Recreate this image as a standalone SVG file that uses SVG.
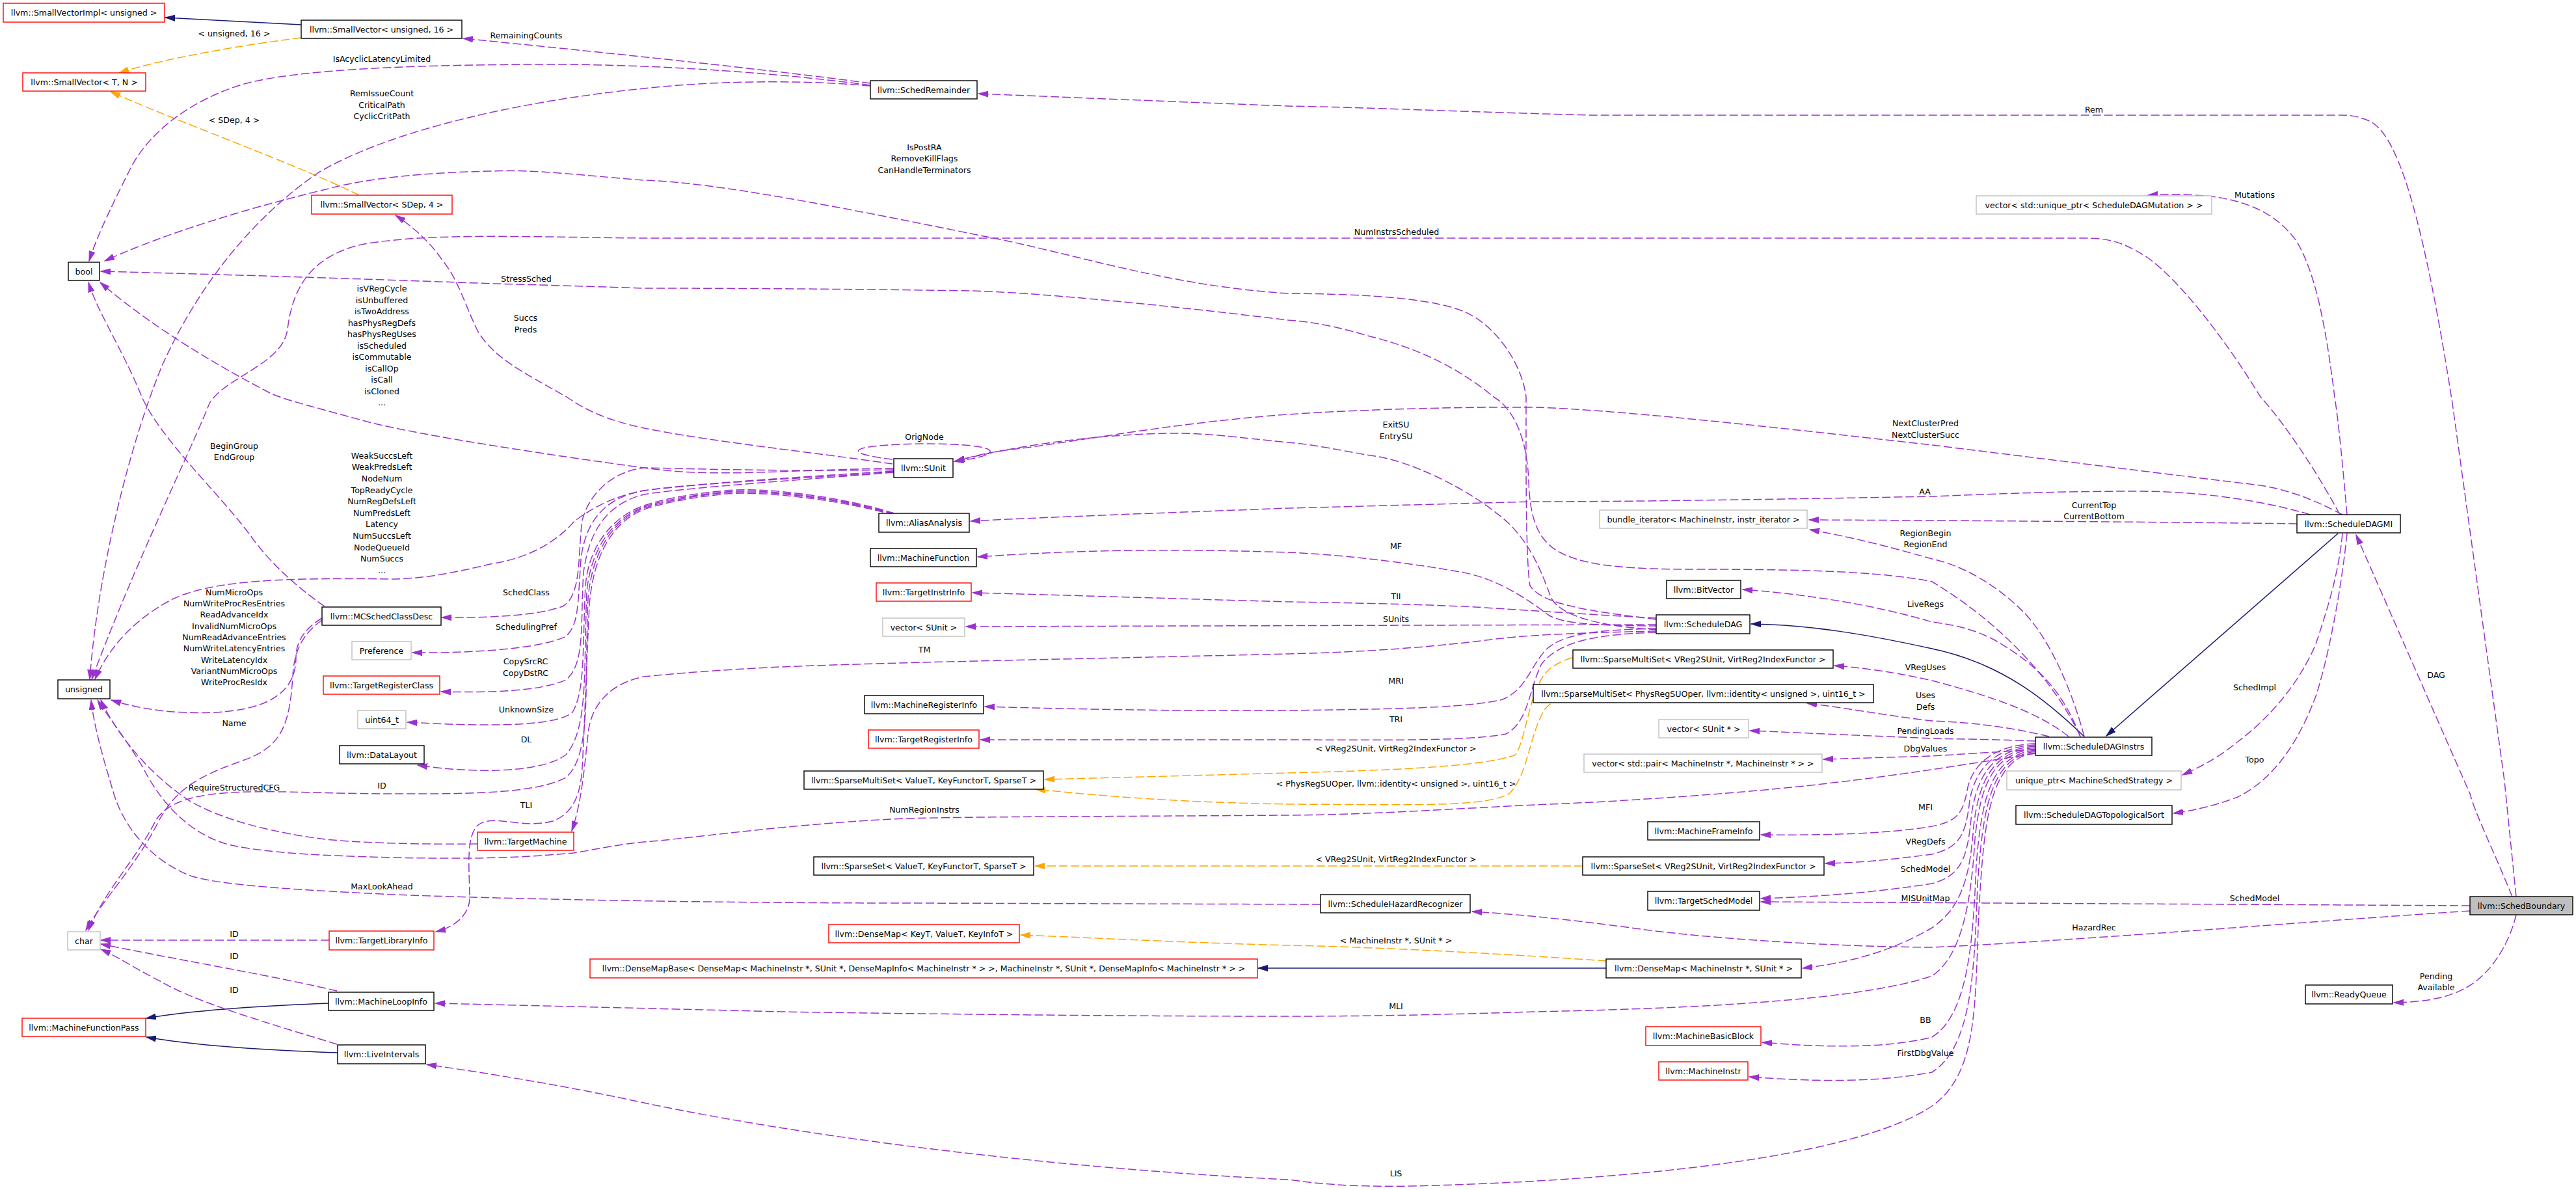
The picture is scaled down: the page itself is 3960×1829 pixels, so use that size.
<svg xmlns="http://www.w3.org/2000/svg" width="3960" height="1829" viewBox="0 0 3960 1829">
<style>
text{font-family:"DejaVu Sans","Liberation Sans",sans-serif;font-size:12.6px;fill:#000}
.nt{text-anchor:middle}
.lb{text-anchor:middle}
.b rect{fill:#fff;stroke:#000;stroke-width:1.4}
.r rect{fill:#fff;stroke:#ff0000;stroke-width:1.4}
.g rect{fill:#fff;stroke:#bfbfbf;stroke-width:1.4}
.u{fill:none;stroke:#9a32cd;stroke-width:1.5;stroke-dasharray:13,5;marker-end:url(#ap)}
.o{fill:none;stroke:#ffa500;stroke-width:1.5;stroke-dasharray:13,5;marker-end:url(#ao)}
.i{fill:none;stroke:#191970;stroke-width:1.5;marker-end:url(#ab)}
</style>
<defs>
<marker id="ap" markerUnits="userSpaceOnUse" markerWidth="16" markerHeight="10" refX="15" refY="5" orient="auto"><path d="M0,0.5 L15,5 L0,9.5 z" fill="#9a32cd" stroke="#9a32cd"/></marker>
<marker id="ao" markerUnits="userSpaceOnUse" markerWidth="16" markerHeight="10" refX="15" refY="5" orient="auto"><path d="M0,0.5 L15,5 L0,9.5 z" fill="#ffa500" stroke="#ffa500"/></marker>
<marker id="ab" markerUnits="userSpaceOnUse" markerWidth="16" markerHeight="10" refX="15" refY="5" orient="auto"><path d="M0,0.5 L15,5 L0,9.5 z" fill="#191970" stroke="#191970"/></marker>
</defs>
<rect width="3960" height="1829" fill="#fff"/>
<g id="edges">
<path class="i" d="M463,38 L254,27"/>
<path class="o" d="M463,58 C380,68 250,90 183,112"/>
<path class="o" d="M552,300 C450,250 280,190 170,141"/>
<path class="u" d="M1338,128 C1150,103 900,78 712,59"/>
<path class="u" d="M1338,131 C1150,106 950,98 821,99 C650,100 470,105 379,128 C300,150 230,200 200,260 C175,310 150,360 137,401"/>
<path class="u" d="M1338,132 C1250,124 1120,122 990,136 C800,155 600,200 490,265 C380,340 300,450 250,560 C200,680 150,880 138,1044"/>
<path class="u" d="M3597,791 C3570,740 3520,660 3475,610 C3420,520 3350,430 3300,395 C3260,370 3240,366 3200,366 L990,366 C800,364 660,358 560,375 C480,392 450,440 442,506 C435,560 345,580 322,620 C290,700 210,860 141,1044"/>
<path class="u" d="M1372,713 C1250,695 1100,680 990,658 C930,645 900,630 871,610 C800,570 760,550 735,510 C715,470 705,430 680,400 C660,370 630,345 608,331"/>
<path class="u" d="M1374,720 C1200,722 1100,735 990,719 C850,700 650,670 568,649 C480,625 440,615 417,605 C330,560 230,500 154,434"/>
<path class="u" d="M1374,725 C1250,735 1100,740 990,754 C930,765 900,790 884,800 C850,840 800,860 758,866 C700,880 650,890 600,890 C450,888 330,890 265,921 C210,950 170,990 146,1044"/>
<path class="u" d="M1374,722 C1200,725 1050,720 990,719 C940,725 905,760 895,800 C888,850 895,915 865,932 C830,945 760,950 679,949"/>
<path class="u" d="M1374,724 C1200,735 1050,745 990,754 C930,765 900,800 893,860 C888,930 890,960 870,978 C830,998 720,1004 634,1003"/>
<path class="u" d="M1374,726 C1200,740 1050,750 990,760 C930,775 905,820 897,880 C892,960 900,1020 870,1045 C830,1063 750,1065 678,1063"/>
<path class="u" d="M1375,789 C1300,765 1180,748 1116,754 C1050,760 1010,770 990,777 C940,795 905,840 900,900 C895,1000 900,1060 880,1095 C850,1120 720,1115 626,1110"/>
<path class="u" d="M1375,790 C1300,767 1180,750 1116,756 C1050,762 1010,772 990,779 C940,798 908,845 902,910 C897,1030 905,1120 870,1160 C830,1190 720,1188 642,1176"/>
<path class="u" d="M1375,791 C1300,768 1180,752 1116,757 C1050,764 1010,774 990,781 C940,800 910,850 904,920 C898,1060 910,1160 870,1195 C820,1222 700,1220 600,1220 C420,1220 280,1200 240,1260 C210,1320 160,1370 136,1430"/>
<path class="u" d="M1375,792 C1300,770 1180,754 1116,759 C1050,766 1010,776 990,783 C940,803 912,855 906,930 C900,1060 898,1130 895,1180 C892,1225 880,1250 850,1262 C800,1275 760,1250 735,1268 C715,1285 722,1340 722,1380 C722,1405 700,1425 670,1432"/>
<path class="u" d="M1372,706 C1300,698 1290,684 1419,682 C1550,682 1545,700 1467,709"/>
<path class="u" d="M499,932 C460,905 420,870 390,830 C340,760 250,680 218,610 C190,540 150,480 136,434"/>
<path class="u" d="M495,950 C470,965 455,985 455,1010 C455,1060 420,1090 330,1095 C260,1098 210,1088 171,1076"/>
<path class="u" d="M495,953 C465,975 452,1000 450,1040 C445,1120 430,1150 370,1170 C300,1195 270,1215 245,1260 C210,1330 160,1380 132,1430"/>
<path class="u" d="M734,1297 C650,1298 560,1296 500,1290 C420,1280 340,1260 290,1230 C230,1190 180,1130 155,1076"/>
<path class="u" d="M2030,1390 L1400,1388 C1100,1388 800,1382 631,1376 C450,1368 330,1360 290,1345 C230,1320 190,1270 175,1220 C160,1170 145,1120 140,1076"/>
<path class="u" d="M3129,1158 C3050,1170 2950,1188 2801,1205 C2700,1217 2500,1232 2359,1237 C2200,1245 2100,1252 1980,1253 C1700,1255 1450,1255 1369,1259 C1200,1268 1050,1290 990,1294 C930,1300 900,1310 870,1312 C780,1320 700,1320 600,1318 C500,1315 420,1312 360,1300 C300,1288 250,1240 220,1180 C190,1130 165,1100 150,1076"/>
<path class="u" d="M2546,970 C2450,972 2360,975 2300,982 C2200,995 2100,1002 1980,1005 C1700,1012 1400,1017 1200,1025 C1100,1030 1040,1035 990,1040 C940,1050 912,1080 905,1120 C898,1180 895,1230 879,1277"/>
<path class="u" d="M2546,952 C2450,940 2370,930 2352,900 C2345,860 2346,700 2346,610 C2340,560 2300,500 2251,479 C2200,458 2100,452 1980,451 C1800,440 1650,390 1527,366 C1300,320 1100,280 990,277 C900,270 820,260 758,263 C650,265 560,275 505,290 C380,320 250,360 161,401"/>
<path class="u" d="M3198,1132 C3160,1050 3080,960 2970,894 C2900,880 2800,875 2611,875 C2500,875 2440,870 2400,850 C2360,830 2352,790 2350,740 C2348,680 2330,630 2296,610 C2260,580 2200,540 2106,517 C2050,500 2010,494 1980,492 C1800,470 1600,450 1495,447 C1300,444 1100,443 990,443 C900,440 800,437 758,436 C600,430 350,422 155,417"/>
<path class="u" d="M2548,968 C2450,962 2400,945 2385,920 C2370,880 2355,840 2320,805 C2260,750 2160,705 2106,700 C2050,690 2010,682 1980,680 C1900,672 1850,665 1800,666 C1680,668 1560,685 1468,709"/>
<path class="u" d="M2548,962 C2450,962 2400,958 2380,945 C2340,915 2300,890 2250,880 C2150,862 2050,852 1980,849 C1850,845 1700,842 1503,856"/>
<path class="u" d="M2546,950 C2450,945 2350,938 2250,932 C2150,928 2050,926 1980,925 C1800,920 1650,915 1495,911"/>
<path class="u" d="M2546,960 L1485,963"/>
<path class="u" d="M2546,966 C2450,968 2400,975 2375,1000 C2350,1030 2345,1060 2310,1075 C2250,1090 2100,1090 1980,1092 C1800,1093 1650,1090 1514,1086"/>
<path class="u" d="M2546,972 C2440,975 2395,990 2370,1020 C2350,1060 2350,1110 2315,1128 C2260,1140 2100,1137 1980,1137 L1507,1137"/>
<path class="i" d="M3204,1132 C3150,1080 3080,1020 2970,997 C2870,975 2780,960 2692,959"/>
<path class="u" d="M3204,1132 C3185,1060 3150,980 3110,940 C3070,900 3020,870 2970,859 C2920,845 2860,828 2782,814"/>
<path class="u" d="M3198,1132 C3170,1060 3130,1020 3065,983 C3030,965 3000,960 2970,956 C2900,935 2800,915 2679,906"/>
<path class="u" d="M3180,1132 C3140,1100 3080,1075 2970,1046 C2920,1035 2880,1028 2820,1023"/>
<path class="u" d="M3150,1132 C3080,1115 3020,1110 2970,1108 C2900,1100 2840,1088 2778,1081"/>
<path class="u" d="M3129,1139 C3060,1136 3000,1136 2970,1135 L2690,1123"/>
<path class="u" d="M3129,1152 C3050,1157 3000,1160 2970,1162 L2803,1167"/>
<path class="u" d="M3129,1143 C3070,1145 3035,1170 3025,1210 C3018,1250 3010,1262 2970,1270 C2900,1282 2800,1284 2707,1283"/>
<path class="u" d="M3129,1145 C3068,1148 3037,1180 3028,1230 C3022,1280 3015,1302 2970,1313 C2900,1322 2860,1326 2806,1327"/>
<path class="u" d="M3129,1147 C3066,1151 3040,1190 3031,1250 C3025,1310 3020,1345 2970,1358 C2880,1372 2800,1378 2707,1381"/>
<path class="u" d="M3129,1149 C3064,1154 3042,1200 3034,1270 C3028,1350 3015,1395 2970,1426 C2920,1455 2860,1478 2771,1488"/>
<path class="u" d="M3129,1151 C3062,1157 3044,1210 3036,1290 C3030,1390 3015,1470 2970,1500 C2880,1530 2700,1548 2359,1555 C2200,1560 2100,1562 1980,1562 C1700,1562 1400,1558 1200,1555 C1000,1550 800,1545 669,1542"/>
<path class="u" d="M3129,1153 C3060,1160 3046,1230 3038,1330 C3033,1450 3025,1560 2970,1594 C2900,1612 2800,1610 2709,1602"/>
<path class="u" d="M3129,1155 C3058,1163 3048,1250 3040,1360 C3035,1500 3030,1610 2970,1648 C2880,1665 2780,1662 2689,1655"/>
<path class="u" d="M3129,1157 C3056,1166 3050,1270 3042,1400 C3036,1550 3040,1650 2970,1700 C2850,1780 2500,1815 2169,1823 C2050,1825 2000,1815 1980,1813 C1700,1800 1300,1760 990,1695 C850,1665 750,1650 656,1636"/>
<path class="i" d="M3594,820 L3238,1131"/>
<path class="u" d="M3551,791 C3500,775 3400,755 3286,755 C3150,755 3050,760 2970,763 C2700,768 2500,771 2359,771 C2200,775 2100,778 1980,781 C1800,788 1600,795 1492,801"/>
<path class="u" d="M3531,805 C3300,802 3000,800 2781,799"/>
<path class="u" d="M3601,791 C3570,775 3530,755 3475,746 C3300,725 3100,700 2970,684 C2800,665 2500,630 2359,626 C2200,625 2050,632 1980,637 C1800,650 1650,680 1546,692 C1510,697 1490,703 1468,709"/>
<path class="u" d="M3608,791 C3600,700 3595,650 3589,610 C3575,500 3560,420 3530,370 C3500,330 3460,310 3400,302 C3360,298 3330,298 3302,300"/>
<path class="u" d="M3601,820 C3595,880 3580,930 3560,990 C3530,1060 3480,1110 3440,1140 C3410,1165 3380,1180 3355,1191"/>
<path class="u" d="M3608,820 C3600,900 3580,1010 3560,1070 C3530,1150 3490,1200 3440,1225 C3400,1240 3370,1246 3341,1250"/>
<path class="u" d="M3868,1378 C3860,1300 3855,1250 3850,1200 L3770,620 C3720,300 3680,200 3640,185 C3625,179 3615,177 3600,177 L2447,177 C2250,172 2100,165 1980,163 C1800,156 1650,150 1504,144"/>
<path class="u" d="M3862,1378 C3830,1300 3805,1250 3797,1220 L3622,822"/>
<path class="u" d="M3797,1392 L2707,1386"/>
<path class="u" d="M3797,1400 C3500,1420 3200,1445 2970,1456 C2800,1455 2600,1440 2500,1425 C2400,1412 2330,1405 2263,1401"/>
<path class="u" d="M3868,1406 C3860,1440 3840,1480 3810,1505 C3780,1530 3740,1540 3680,1541"/>
<path class="o" d="M2542,999 C2460,998 2410,1005 2380,1030 C2350,1060 2348,1130 2330,1160 C2280,1180 2100,1185 1980,1188 L1606,1198"/>
<path class="o" d="M2540,1052 C2460,1050 2400,1060 2375,1090 C2350,1130 2350,1190 2320,1220 C2280,1240 2200,1237 1980,1236 C1800,1233 1680,1222 1592,1213"/>
<path class="o" d="M2433,1331 L1591,1331"/>
<path class="o" d="M2469,1477 C2300,1465 2100,1455 1980,1453 C1800,1448 1650,1440 1569,1437"/>
<path class="i" d="M2469,1488 L1934,1488"/>
<path class="i" d="M505,1542 C400,1546 300,1552 225,1565"/>
<path class="i" d="M519,1618 C400,1614 300,1607 225,1594"/>
<path class="u" d="M506,1445 L155,1445"/>
<path class="u" d="M518,1523 C420,1500 300,1480 155,1451"/>
<path class="u" d="M518,1605 C420,1575 300,1540 250,1510 C210,1490 180,1470 155,1459"/>
</g>
<g id="edge-labels">
<text class="lb" x="360" y="55.5">&lt; unsigned, 16 &gt;</text>
<text class="lb" x="809" y="59">RemainingCounts</text>
<text class="lb" x="587" y="94.5">IsAcyclicLatencyLimited</text>
<text class="lb" x="587" y="148">RemIssueCount</text>
<text class="lb" x="587" y="165.5">CriticalPath</text>
<text class="lb" x="587" y="183">CyclicCritPath</text>
<text class="lb" x="360" y="188.5">&lt; SDep, 4 &gt;</text>
<text class="lb" x="1421" y="230.5">IsPostRA</text>
<text class="lb" x="1421" y="248">RemoveKillFlags</text>
<text class="lb" x="1421" y="265.5">CanHandleTerminators</text>
<text class="lb" x="3219" y="172.5">Rem</text>
<text class="lb" x="3466" y="303.5">Mutations</text>
<text class="lb" x="2147" y="360.5">NumInstrsScheduled</text>
<text class="lb" x="809" y="432.5">StressSched</text>
<text class="lb" x="587" y="448">isVRegCycle</text>
<text class="lb" x="587" y="465.5">isUnbuffered</text>
<text class="lb" x="587" y="483">isTwoAddress</text>
<text class="lb" x="587" y="500.5">hasPhysRegDefs</text>
<text class="lb" x="587" y="518">hasPhysRegUses</text>
<text class="lb" x="587" y="535.5">isScheduled</text>
<text class="lb" x="587" y="553">isCommutable</text>
<text class="lb" x="587" y="570.5">isCallOp</text>
<text class="lb" x="587" y="588">isCall</text>
<text class="lb" x="587" y="605.5">isCloned</text>
<text class="lb" x="587" y="623">...</text>
<text class="lb" x="808" y="493">Succs</text>
<text class="lb" x="808" y="511">Preds</text>
<text class="lb" x="2146" y="657">ExitSU</text>
<text class="lb" x="2146" y="674.5">EntrySU</text>
<text class="lb" x="2960" y="655">NextClusterPred</text>
<text class="lb" x="2960" y="672.5">NextClusterSucc</text>
<text class="lb" x="1421" y="676">OrigNode</text>
<text class="lb" x="360" y="689.5">BeginGroup</text>
<text class="lb" x="360" y="707">EndGroup</text>
<text class="lb" x="587" y="704.5">WeakSuccsLeft</text>
<text class="lb" x="587" y="722">WeakPredsLeft</text>
<text class="lb" x="587" y="739.5">NodeNum</text>
<text class="lb" x="587" y="757.5">TopReadyCycle</text>
<text class="lb" x="587" y="775">NumRegDefsLeft</text>
<text class="lb" x="587" y="792.5">NumPredsLeft</text>
<text class="lb" x="587" y="810">Latency</text>
<text class="lb" x="587" y="828">NumSuccsLeft</text>
<text class="lb" x="587" y="845.5">NodeQueueId</text>
<text class="lb" x="587" y="863">NumSuccs</text>
<text class="lb" x="587" y="881">...</text>
<text class="lb" x="2959" y="759.5">AA</text>
<text class="lb" x="3219" y="780.5">CurrentTop</text>
<text class="lb" x="3219" y="797.5">CurrentBottom</text>
<text class="lb" x="2960" y="823.5">RegionBegin</text>
<text class="lb" x="2960" y="840.5">RegionEnd</text>
<text class="lb" x="2146" y="843.5">MF</text>
<text class="lb" x="360" y="914.5">NumMicroOps</text>
<text class="lb" x="360" y="932">NumWriteProcResEntries</text>
<text class="lb" x="360" y="949">ReadAdvanceIdx</text>
<text class="lb" x="360" y="967">InvalidNumMicroOps</text>
<text class="lb" x="360" y="984">NumReadAdvanceEntries</text>
<text class="lb" x="360" y="1001">NumWriteLatencyEntries</text>
<text class="lb" x="360" y="1019">WriteLatencyIdx</text>
<text class="lb" x="360" y="1036">VariantNumMicroOps</text>
<text class="lb" x="360" y="1053">WriteProcResIdx</text>
<text class="lb" x="809" y="914.5">SchedClass</text>
<text class="lb" x="2146" y="921">TII</text>
<text class="lb" x="2960" y="933">LiveRegs</text>
<text class="lb" x="2146" y="955.5">SUnits</text>
<text class="lb" x="809" y="967.5">SchedulingPref</text>
<text class="lb" x="1421" y="1002.5">TM</text>
<text class="lb" x="808" y="1021">CopySrcRC</text>
<text class="lb" x="808" y="1039">CopyDstRC</text>
<text class="lb" x="2960" y="1029.5">VRegUses</text>
<text class="lb" x="3745" y="1041.5">DAG</text>
<text class="lb" x="2146" y="1051">MRI</text>
<text class="lb" x="3466" y="1061">SchedImpl</text>
<text class="lb" x="2960" y="1072.5">Uses</text>
<text class="lb" x="2960" y="1090.5">Defs</text>
<text class="lb" x="809" y="1095">UnknownSize</text>
<text class="lb" x="2146" y="1109.5">TRI</text>
<text class="lb" x="360" y="1115.5">Name</text>
<text class="lb" x="2960" y="1128">PendingLoads</text>
<text class="lb" x="809" y="1140.5">DL</text>
<text class="lb" x="2146" y="1154.5">&lt; VReg2SUnit, VirtReg2IndexFunctor &gt;</text>
<text class="lb" x="2960" y="1154.5">DbgValues</text>
<text class="lb" x="3466" y="1171.5">Topo</text>
<text class="lb" x="2146" y="1208.5">&lt; PhysRegSUOper, llvm::identity&lt; unsigned &gt;, uint16_t &gt;</text>
<text class="lb" x="587" y="1211.5">ID</text>
<text class="lb" x="360" y="1214.5">RequireStructuredCFG</text>
<text class="lb" x="809" y="1241.5">TLI</text>
<text class="lb" x="2960" y="1244.5">MFI</text>
<text class="lb" x="1421" y="1249">NumRegionInstrs</text>
<text class="lb" x="2960" y="1297.5">VRegDefs</text>
<text class="lb" x="2146" y="1325">&lt; VReg2SUnit, VirtReg2IndexFunctor &gt;</text>
<text class="lb" x="2960" y="1340">SchedModel</text>
<text class="lb" x="587" y="1367">MaxLookAhead</text>
<text class="lb" x="3466" y="1384.5">SchedModel</text>
<text class="lb" x="2960" y="1385">MISUnitMap</text>
<text class="lb" x="3219" y="1429.5">HazardRec</text>
<text class="lb" x="360" y="1440">ID</text>
<text class="lb" x="2146" y="1449.5">&lt; MachineInstr *, SUnit * &gt;</text>
<text class="lb" x="360" y="1473.5">ID</text>
<text class="lb" x="3745" y="1504.5">Pending</text>
<text class="lb" x="3745" y="1521.5">Available</text>
<text class="lb" x="360" y="1525.5">ID</text>
<text class="lb" x="2146" y="1551">MLI</text>
<text class="lb" x="2960" y="1571.5">BB</text>
<text class="lb" x="2960" y="1623">FirstDbgValue</text>
<text class="lb" x="2146" y="1808">LIS</text>
</g>
<g id="nodes">
<g id="n1" class="r"><rect x="5" y="5" width="248" height="29"/><text class="nt" x="129" y="24">llvm::SmallVectorImpl&lt; unsigned &gt;</text></g>
<g id="n2" class="b"><rect x="463" y="31" width="247" height="28"/><text class="nt" x="586.5" y="49.5">llvm::SmallVector&lt; unsigned, 16 &gt;</text></g>
<g id="n3" class="r"><rect x="35" y="112" width="189" height="28"/><text class="nt" x="129.5" y="130.5">llvm::SmallVector&lt; T, N &gt;</text></g>
<g id="n4" class="r"><rect x="479" y="300" width="216" height="29"/><text class="nt" x="587" y="319">llvm::SmallVector&lt; SDep, 4 &gt;</text></g>
<g id="n5" class="b"><rect x="105" y="403" width="48" height="28"/><text class="nt" x="129" y="421.5">bool</text></g>
<g id="n6" class="b"><rect x="89" y="1045" width="80" height="29"/><text class="nt" x="129" y="1064">unsigned</text></g>
<g id="n7" class="g"><rect x="104" y="1432" width="50" height="28"/><text class="nt" x="129" y="1450.5">char</text></g>
<g id="n8" class="r"><rect x="34" y="1565" width="190" height="28"/><text class="nt" x="129" y="1583.5">llvm::MachineFunctionPass</text></g>
<g id="n9" class="b"><rect x="1338" y="124" width="164" height="28"/><text class="nt" x="1420" y="142.5">llvm::SchedRemainder</text></g>
<g id="n10" class="b"><rect x="495" y="933" width="183" height="28"/><text class="nt" x="586.5" y="951.5">llvm::MCSchedClassDesc</text></g>
<g id="n11" class="g"><rect x="541" y="986" width="91" height="28"/><text class="nt" x="586.5" y="1004.5">Preference</text></g>
<g id="n12" class="r"><rect x="497" y="1039" width="179" height="28"/><text class="nt" x="586.5" y="1057.5">llvm::TargetRegisterClass</text></g>
<g id="n13" class="g"><rect x="550" y="1092" width="74" height="28"/><text class="nt" x="587" y="1110.5">uint64_t</text></g>
<g id="n14" class="b"><rect x="522" y="1146" width="130" height="28"/><text class="nt" x="587" y="1164.5">llvm::DataLayout</text></g>
<g id="n15" class="r"><rect x="734" y="1279" width="148" height="28"/><text class="nt" x="808" y="1297.5">llvm::TargetMachine</text></g>
<g id="n16" class="r"><rect x="506" y="1431" width="161" height="29"/><text class="nt" x="586.5" y="1450">llvm::TargetLibraryInfo</text></g>
<g id="n17" class="b"><rect x="505" y="1525" width="162" height="28"/><text class="nt" x="586" y="1543.5">llvm::MachineLoopInfo</text></g>
<g id="n18" class="b"><rect x="519" y="1606" width="135" height="29"/><text class="nt" x="586.5" y="1625">llvm::LiveIntervals</text></g>
<g id="n19" class="b"><rect x="1374" y="705" width="91" height="29"/><text class="nt" x="1419.5" y="724">llvm::SUnit</text></g>
<g id="n20" class="b"><rect x="1351" y="789" width="139" height="29"/><text class="nt" x="1420.5" y="808">llvm::AliasAnalysis</text></g>
<g id="n21" class="b"><rect x="1338" y="843" width="163" height="28"/><text class="nt" x="1419.5" y="861.5">llvm::MachineFunction</text></g>
<g id="n22" class="r"><rect x="1347" y="896" width="146" height="28"/><text class="nt" x="1420" y="914.5">llvm::TargetInstrInfo</text></g>
<g id="n23" class="g"><rect x="1357" y="950" width="126" height="28"/><text class="nt" x="1420" y="968.5">vector&lt; SUnit &gt;</text></g>
<g id="n24" class="b"><rect x="1329" y="1069" width="183" height="28"/><text class="nt" x="1420.5" y="1087.5">llvm::MachineRegisterInfo</text></g>
<g id="n25" class="r"><rect x="1335" y="1122" width="170" height="28"/><text class="nt" x="1420" y="1140.5">llvm::TargetRegisterInfo</text></g>
<g id="n26" class="b"><rect x="1236" y="1185" width="368" height="28"/><text class="nt" x="1420" y="1203.5">llvm::SparseMultiSet&lt; ValueT, KeyFunctorT, SparseT &gt;</text></g>
<g id="n27" class="b"><rect x="1251" y="1317" width="338" height="28"/><text class="nt" x="1420" y="1335.5">llvm::SparseSet&lt; ValueT, KeyFunctorT, SparseT &gt;</text></g>
<g id="n28" class="r"><rect x="1274" y="1421" width="293" height="28"/><text class="nt" x="1420.5" y="1439.5">llvm::DenseMap&lt; KeyT, ValueT, KeyInfoT &gt;</text></g>
<g id="n29" class="r"><rect x="907" y="1474" width="1026" height="29"/><text class="nt" x="1420" y="1493">llvm::DenseMapBase&lt; DenseMap&lt; MachineInstr *, SUnit *, DenseMapInfo&lt; MachineInstr * &gt; &gt;, MachineInstr *, SUnit *, DenseMapInfo&lt; MachineInstr * &gt; &gt;</text></g>
<g id="n30" class="g"><rect x="2459" y="784" width="319" height="28"/><text class="nt" x="2618.5" y="802.5">bundle_iterator&lt; MachineInstr, instr_iterator &gt;</text></g>
<g id="n31" class="b"><rect x="2562" y="892" width="114" height="28"/><text class="nt" x="2619" y="910.5">llvm::BitVector</text></g>
<g id="n32" class="b"><rect x="2546" y="945" width="144" height="29"/><text class="nt" x="2618" y="964">llvm::ScheduleDAG</text></g>
<g id="n33" class="b"><rect x="2418" y="999" width="400" height="28"/><text class="nt" x="2618" y="1017.5">llvm::SparseMultiSet&lt; VReg2SUnit, VirtReg2IndexFunctor &gt;</text></g>
<g id="n34" class="b"><rect x="2357" y="1052" width="523" height="28"/><text class="nt" x="2618.5" y="1070.5">llvm::SparseMultiSet&lt; PhysRegSUOper, llvm::identity&lt; unsigned &gt;, uint16_t &gt;</text></g>
<g id="n35" class="g"><rect x="2550" y="1106" width="138" height="28"/><text class="nt" x="2619" y="1124.5">vector&lt; SUnit * &gt;</text></g>
<g id="n36" class="g"><rect x="2435" y="1159" width="366" height="28"/><text class="nt" x="2618" y="1177.5">vector&lt; std::pair&lt; MachineInstr *, MachineInstr * &gt; &gt;</text></g>
<g id="n37" class="b"><rect x="2533" y="1263" width="172" height="28"/><text class="nt" x="2619" y="1281.5">llvm::MachineFrameInfo</text></g>
<g id="n38" class="b"><rect x="2433" y="1317" width="371" height="28"/><text class="nt" x="2618.5" y="1335.5">llvm::SparseSet&lt; VReg2SUnit, VirtReg2IndexFunctor &gt;</text></g>
<g id="n39" class="b"><rect x="2030" y="1375" width="230" height="28"/><text class="nt" x="2145" y="1393.5">llvm::ScheduleHazardRecognizer</text></g>
<g id="n40" class="b"><rect x="2533" y="1370" width="172" height="29"/><text class="nt" x="2619" y="1389">llvm::TargetSchedModel</text></g>
<g id="n41" class="b"><rect x="2469" y="1474" width="300" height="29"/><text class="nt" x="2619" y="1493">llvm::DenseMap&lt; MachineInstr *, SUnit * &gt;</text></g>
<g id="n42" class="r"><rect x="2530" y="1578" width="177" height="29"/><text class="nt" x="2618.5" y="1597">llvm::MachineBasicBlock</text></g>
<g id="n43" class="r"><rect x="2550" y="1632" width="137" height="28"/><text class="nt" x="2618.5" y="1650.5">llvm::MachineInstr</text></g>
<g id="n44" class="b"><rect x="3129" y="1133" width="179" height="28"/><text class="nt" x="3218.5" y="1151.5">llvm::ScheduleDAGInstrs</text></g>
<g id="n45" class="g"><rect x="3038" y="301" width="362" height="28"/><text class="nt" x="3219" y="319.5">vector&lt; std::unique_ptr&lt; ScheduleDAGMutation &gt; &gt;</text></g>
<g id="n46" class="g"><rect x="3085" y="1185" width="268" height="29"/><text class="nt" x="3219" y="1204">unique_ptr&lt; MachineSchedStrategy &gt;</text></g>
<g id="n47" class="b"><rect x="3099" y="1238" width="240" height="29"/><text class="nt" x="3219" y="1257">llvm::ScheduleDAGTopologicalSort</text></g>
<g id="n48" class="b"><rect x="3531" y="791" width="159" height="28"/><text class="nt" x="3610.5" y="809.5">llvm::ScheduleDAGMI</text></g>
<g id="n49" class="b"><rect x="3544" y="1514" width="134" height="29"/><text class="nt" x="3611" y="1533">llvm::ReadyQueue</text></g>
<g id="n50" class="b"><rect x="3797" y="1378" width="158" height="28" style="fill:#bfbfbf"/><text class="nt" x="3876" y="1396.5">llvm::SchedBoundary</text></g>
</g>
</svg>
